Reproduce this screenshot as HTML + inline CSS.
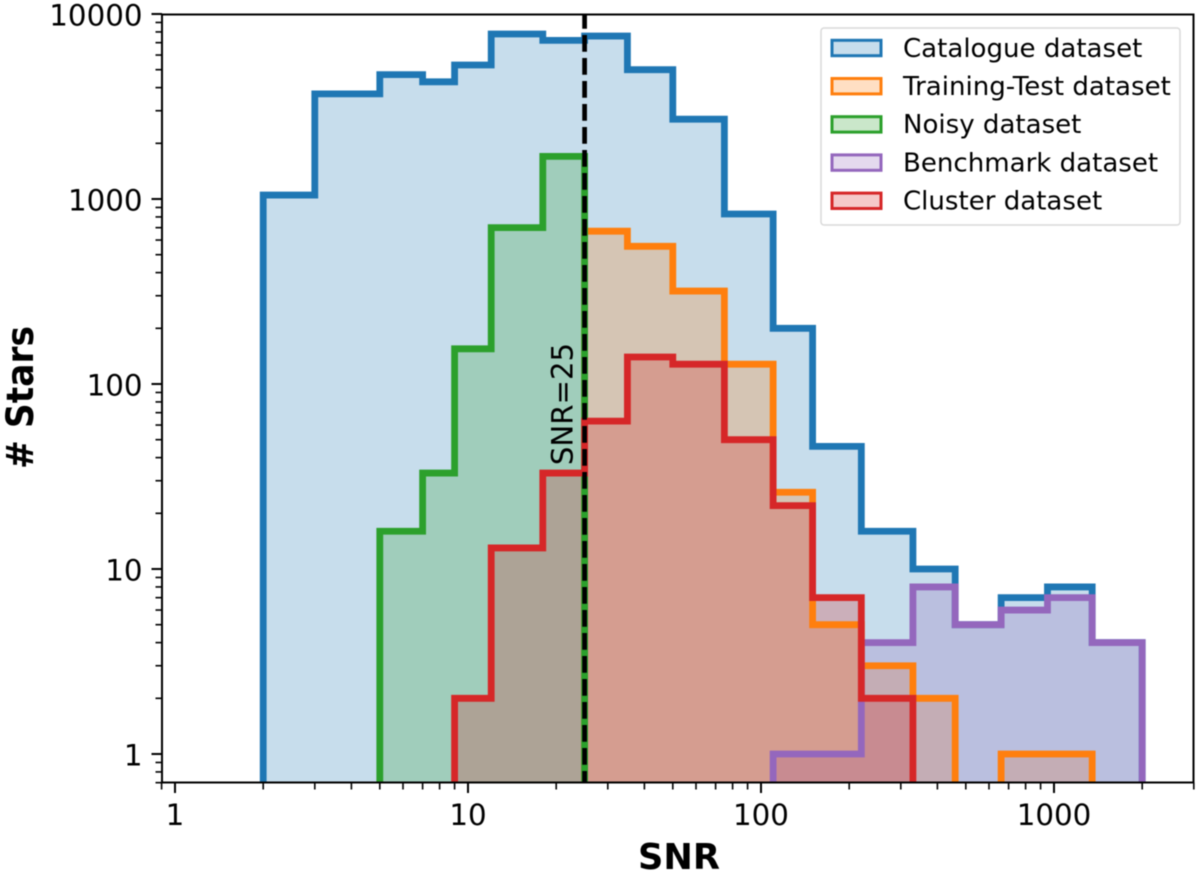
<!DOCTYPE html>
<html>
<head>
<meta charset="utf-8">
<style>
html,body{margin:0;padding:0;background:#fff;width:1200px;height:875px;overflow:hidden}
svg{display:block;filter:blur(0.4px)}
text{font-family:"DejaVu Sans","Liberation Sans",sans-serif;fill:#000}
</style>
</head>
<body>
<svg id="chart" xmlns="http://www.w3.org/2000/svg" width="1200" height="875" viewBox="0 0 1200 875"></svg>
<script>
const binEdges = [2,3,5,7,9,12,18,25,35,50,75,110,150,220,330,460,660,950,1350,2000];
const catalogueCounts = [1050,3700,4700,4300,5300,7800,7200,7600,5000,2700,830,200,46,16,10,5,7,8,4];
const trainingCounts = [0,0,0,0,0,0,0,670,555,318,128,26,5,3,2,0,1,1,0];
const noisyCounts = [0,0,16,33,155,700,1700,0,0,0,0,0,0,0,0,0,0,0,0];
const benchmarkCounts = [0,0,0,0,0,0,0,0,0,0,0,1,1,4,8,5,6,7,4];
const clusterCounts = [0,0,0,0,2,13,33,63,140,128,50,22,7,2,0,0,0,0,0];
const seriesNames = ["Catalogue dataset","Training-Test dataset","Noisy dataset","Benchmark dataset","Cluster dataset"];
const seriesKeys = ["catalogue","training-test","noisy","benchmark","cluster"];
const seriesColors = ["#1f77b4","#ff7f0e","#2ca02c","#9467bd","#d62728"];
const xTickValues = [1,10,100,1000];
const yTickValues = [1,10,100,1000,10000];
const thresholdValue = 25;

const allCounts = [catalogueCounts,trainingCounts,noisyCounts,benchmarkCounts,clusterCounts];
const NS = "http://www.w3.org/2000/svg";
const svg = document.getElementById("chart");
const plotL = 162, plotR = 1193.5, plotT = 14.5, plotB = 782.5;
const xOrigin = 175, xDecade = 293, yOrigin = 754, yDecade = 185;
function xScale(v){return xOrigin + Math.log10(v)*xDecade;}
function yScale(v){return yOrigin - Math.log10(v)*yDecade;}
function make(tag,attrs,parent){
  const el = document.createElementNS(NS,tag);
  for(const k in attrs){el.setAttribute(k,attrs[k]);}
  (parent||svg).appendChild(el);
  return el;
}
function stepPath(counts,close){
  const floorY = plotB + 30;
  let d = "M" + xScale(binEdges[0]) + " " + floorY;
  counts.forEach(function(c,i){
    const y = c > 0 ? yScale(c) : floorY;
    d += "L" + xScale(binEdges[i]) + " " + y + "L" + xScale(binEdges[i+1]) + " " + y;
  });
  d += "L" + xScale(binEdges[binEdges.length-1]) + " " + floorY;
  return close ? d + "Z" : d;
}

const defs = make("defs",{});
const clip = make("clipPath",{id:"plot-clip"},defs);
make("rect",{x:plotL,y:plotT,width:plotR-plotL,height:plotB-plotT},clip);

const plotArea = make("g",{"clip-path":"url(#plot-clip)"});



allCounts.forEach(function(counts,i){
  const fill = make("path",{d:stepPath(counts,true),fill:seriesColors[i],"fill-opacity":0.25,stroke:"none"},plotArea);
  
  
});
allCounts.forEach(function(counts,i){
  const line = make("path",{d:stepPath(counts,false),fill:"none",stroke:seriesColors[i],"stroke-width":6.8,"stroke-linejoin":"miter"},plotArea);
  
  
});

const thresholdLine = make("line",{x1:xScale(thresholdValue),x2:xScale(thresholdValue),y1:plotT,y2:plotB,stroke:"#000","stroke-width":4.7,"stroke-dasharray":"16.7 6.3","stroke-dashoffset":2.5},plotArea);



const thresholdLabel = make("text",{transform:"translate(572.5,404) rotate(-90)","text-anchor":"middle","font-size":29.2});
thresholdLabel.textContent = "SNR=" + thresholdValue;



// x ticks
for(let dec=0;dec<=3;dec++){
  for(let m=1;m<=9;m++){
    const v = m*Math.pow(10,dec);
    if(v>3000 || m===1) continue;
    const t = make("line",{x1:xScale(v),x2:xScale(v),y1:plotB,y2:plotB+7,stroke:"#000","stroke-width":1.6});
    
    
  }
}
const xEdgeMinor = make("line",{x1:xScale(0.9),x2:xScale(0.9),y1:plotB,y2:plotB+7,stroke:"#000","stroke-width":1.6});


xTickValues.forEach(function(v){
  const t = make("line",{x1:xScale(v),x2:xScale(v),y1:plotB,y2:plotB+10.5,stroke:"#000","stroke-width":2});
  
  
  const l = make("text",{x:xScale(v),y:825,"text-anchor":"middle","font-size":29.3});
  l.textContent = String(v);
  
  
});

// y ticks
for(let dec=-1;dec<=3;dec++){
  for(let m=2;m<=9;m++){
    const v = m*Math.pow(10,dec);
    const y = yScale(v);
    if(y>plotB+1 || y<plotT) continue;
    const t = make("line",{x1:plotL-6.5,x2:plotL,y1:y,y2:y,stroke:"#000","stroke-width":1.6});
    
    
  }
}
yTickValues.forEach(function(v){
  const y = yScale(v);
  const t = make("line",{x1:plotL-10.5,x2:plotL,y1:y,y2:y,stroke:"#000","stroke-width":2});
  
  
  const l = make("text",{x:142.5,y:y+11.7,"text-anchor":"end","font-size":29.3});
  l.textContent = String(v);
  
  
});

const frame = make("rect",{x:plotL,y:plotT,width:plotR-plotL,height:plotB-plotT,fill:"none",stroke:"#000","stroke-width":2});



const xTitle = make("text",{x:679,y:869,"text-anchor":"middle","font-size":35.2,"font-weight":"bold"});
xTitle.textContent = "SNR";



const yTitle = make("text",{transform:"translate(33,397.5) rotate(-90)","text-anchor":"middle","font-size":37,"font-weight":"bold",textLength:143,lengthAdjust:"spacingAndGlyphs"});
yTitle.textContent = "# Stars";



// legend
const legend = make("g",{});


const legendBox = make("rect",{x:821,y:28,width:359,height:197,rx:3,ry:3,fill:"#fff","fill-opacity":0.8,stroke:"#d9d9d9","stroke-width":1.5},legend);


seriesNames.forEach(function(name,i){
  const cy = 48 + i*38.2;
  const swatch = make("rect",{x:832,y:cy-7.7,width:49,height:15.4,fill:seriesColors[i],"fill-opacity":0.25,stroke:seriesColors[i],"stroke-width":3},legend);
  
  
  const label = make("text",{x:903,y:cy+8.8,"font-size":26.05},legend);
  label.textContent = name;
  
  
});
</script>
</body>
</html>
